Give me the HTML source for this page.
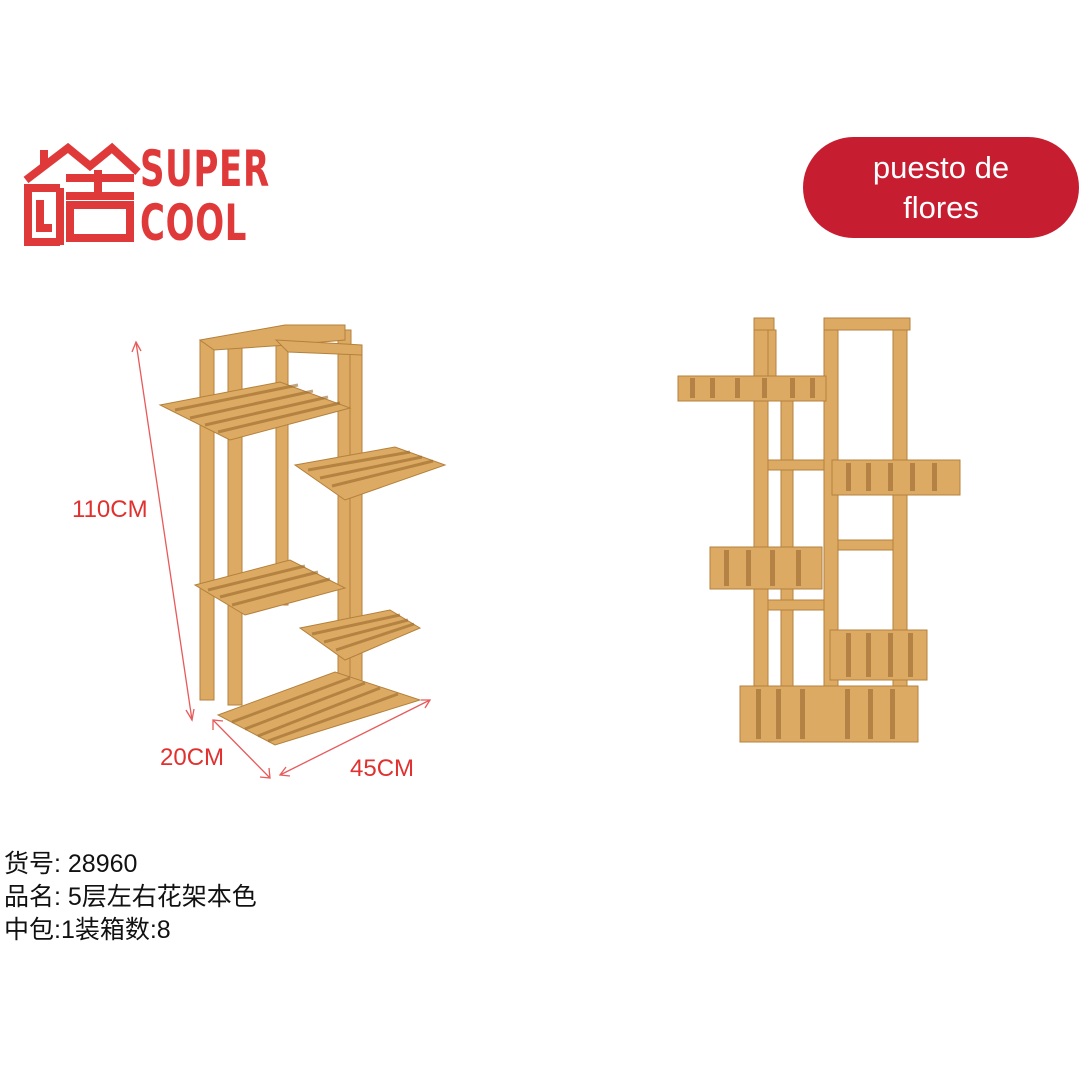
<!DOCTYPE html>
<html><head><meta charset="utf-8"><style>
html,body{margin:0;padding:0;background:#fff}
body{width:1080px;height:1080px;position:relative;overflow:hidden;font-family:"Liberation Sans","Noto Sans CJK SC",sans-serif}
.pill{position:absolute;left:803px;top:137px;width:276px;height:101px;border-radius:51px;background:#c61d31;color:#fff;font-size:31px;line-height:40px;text-align:center;display:flex;align-items:center;justify-content:center}
.lbl{position:absolute;color:#e0312f;font-size:24px}
.info{position:absolute;left:4px;top:848px;font-size:25px;line-height:33px;color:#111}
.logo{position:absolute;left:140px;top:142px;color:#e0393a;font-weight:bold;font-size:50px;line-height:54px;letter-spacing:1px;font-family:"DejaVu Sans","Liberation Sans",sans-serif;transform:scaleX(0.68);transform-origin:0 0}
</style></head><body>
<svg width="1080" height="1080" style="position:absolute;left:0;top:0">
<g stroke="#e0393a" stroke-width="8" fill="none" stroke-linejoin="miter">
<polyline points="26,180 68,148 90,166 112,148 138,172"/>
<line x1="44" y1="150" x2="44" y2="166"/>
<line x1="66" y1="178" x2="134" y2="178"/>
<line x1="98" y1="170" x2="98" y2="200"/>
<line x1="66" y1="196" x2="134" y2="196"/>
<rect x="70" y="205" width="60" height="33"/>
<polyline points="24,188 60,188"/>
<polyline points="28,188 28,242 60,242"/>
<polyline points="40,200 40,228 52,228"/>
<line x1="60" y1="188" x2="60" y2="245"/>
</g>
<g stroke="#e85a5a" stroke-width="1.3" fill="none">
<line x1="136" y1="342" x2="192" y2="720"/>
<polyline points="132,352 136,342 141,351"/><polyline points="186,710 192,720 194,709"/>
<line x1="213" y1="720" x2="270" y2="778"/>
<polyline points="213,730 213,720 223,721"/><polyline points="260,777 270,778 269,768"/>
<line x1="280" y1="775" x2="430" y2="700"/>
<polyline points="290,776 280,775 286,767"/><polyline points="421,700 430,700 425,708"/>
</g>
<g fill="#dcaa63" stroke="#b4813c" stroke-width="1">
<rect x="200" y="340" width="14" height="360"/>
<rect x="228" y="345" width="14" height="360"/>
<rect x="338" y="330" width="13" height="380"/>
<rect x="350" y="345" width="12" height="360"/>
<rect x="276" y="335" width="12" height="270"/>
<polygon points="200,340 285,325 345,325 345,340 288,345 214,350"/>
<polygon points="276,340 362,345 362,355 288,352"/>
<polygon points="160,405 280,382 350,408 230,440"/>
<polygon points="295,465 395,447 445,465 345,500"/>
<polygon points="195,585 290,560 345,588 245,615"/>
<polygon points="300,628 390,610 420,628 345,660"/>
<polygon points="218,715 335,672 420,700 275,745"/>
</g>
<g stroke="#9a6a2c" stroke-width="3" opacity="0.6">
<line x1="175" y1="410" x2="298" y2="385"/><line x1="190" y1="418" x2="313" y2="391"/><line x1="205" y1="425" x2="328" y2="397"/><line x1="218" y1="432" x2="340" y2="403"/>
<line x1="308" y1="470" x2="410" y2="452"/><line x1="320" y1="478" x2="422" y2="457"/><line x1="332" y1="486" x2="433" y2="461"/>
<line x1="208" y1="590" x2="305" y2="566"/><line x1="220" y1="597" x2="318" y2="572"/><line x1="232" y1="605" x2="330" y2="579"/>
<line x1="312" y1="634" x2="400" y2="615"/><line x1="324" y1="642" x2="408" y2="620"/><line x1="336" y1="650" x2="414" y2="624"/>
<line x1="232" y1="722" x2="350" y2="678"/><line x1="245" y1="729" x2="365" y2="683"/><line x1="258" y1="736" x2="380" y2="688"/><line x1="268" y1="741" x2="398" y2="694"/>
</g>
<g fill="#dcaa63" stroke="#b4813c" stroke-width="1">
<rect x="754" y="318" width="14" height="420"/>
<rect x="768" y="330" width="8" height="50"/>
<rect x="824" y="318" width="14" height="420"/>
<rect x="893" y="318" width="14" height="380"/>
<rect x="781" y="390" width="12" height="300"/>
<rect x="754" y="318" width="20" height="12"/>
<rect x="824" y="318" width="86" height="12"/>
<rect x="768" y="460" width="56" height="10"/>
<rect x="768" y="600" width="56" height="10"/>
<rect x="838" y="540" width="55" height="10"/>
<rect x="678" y="376" width="148" height="25"/>
<rect x="832" y="460" width="128" height="35"/>
<rect x="710" y="547" width="112" height="42"/>
<rect x="830" y="630" width="97" height="50"/>
<rect x="740" y="686" width="178" height="56"/>
</g>
<g fill="#a6753a" opacity="0.75">
<rect x="690" y="378" width="5" height="20"/><rect x="710" y="378" width="5" height="20"/><rect x="735" y="378" width="5" height="20"/><rect x="762" y="378" width="5" height="20"/><rect x="790" y="378" width="5" height="20"/><rect x="810" y="378" width="5" height="20"/>
<rect x="846" y="463" width="5" height="28"/><rect x="866" y="463" width="5" height="28"/><rect x="888" y="463" width="5" height="28"/><rect x="910" y="463" width="5" height="28"/><rect x="932" y="463" width="5" height="28"/>
<rect x="724" y="550" width="5" height="36"/><rect x="746" y="550" width="5" height="36"/><rect x="770" y="550" width="5" height="36"/><rect x="796" y="550" width="5" height="36"/>
<rect x="846" y="633" width="5" height="44"/><rect x="866" y="633" width="5" height="44"/><rect x="888" y="633" width="5" height="44"/><rect x="908" y="633" width="5" height="44"/>
<rect x="756" y="689" width="5" height="50"/><rect x="776" y="689" width="5" height="50"/><rect x="800" y="689" width="5" height="50"/><rect x="845" y="689" width="5" height="50"/><rect x="868" y="689" width="5" height="50"/><rect x="890" y="689" width="5" height="50"/>
</g>
</svg>
<div class="logo">SUPER<br>COOL</div>
<div class="pill">puesto de<br>flores</div>
<div class="lbl" style="left:72px;top:496px">110CM</div>
<div class="lbl" style="left:160px;top:744px">20CM</div>
<div class="lbl" style="left:350px;top:755px">45CM</div>
<div class="info">货号: 28960<br>品名: 5层左右花架本色<br>中包:1装箱数:8</div>
</body></html>
